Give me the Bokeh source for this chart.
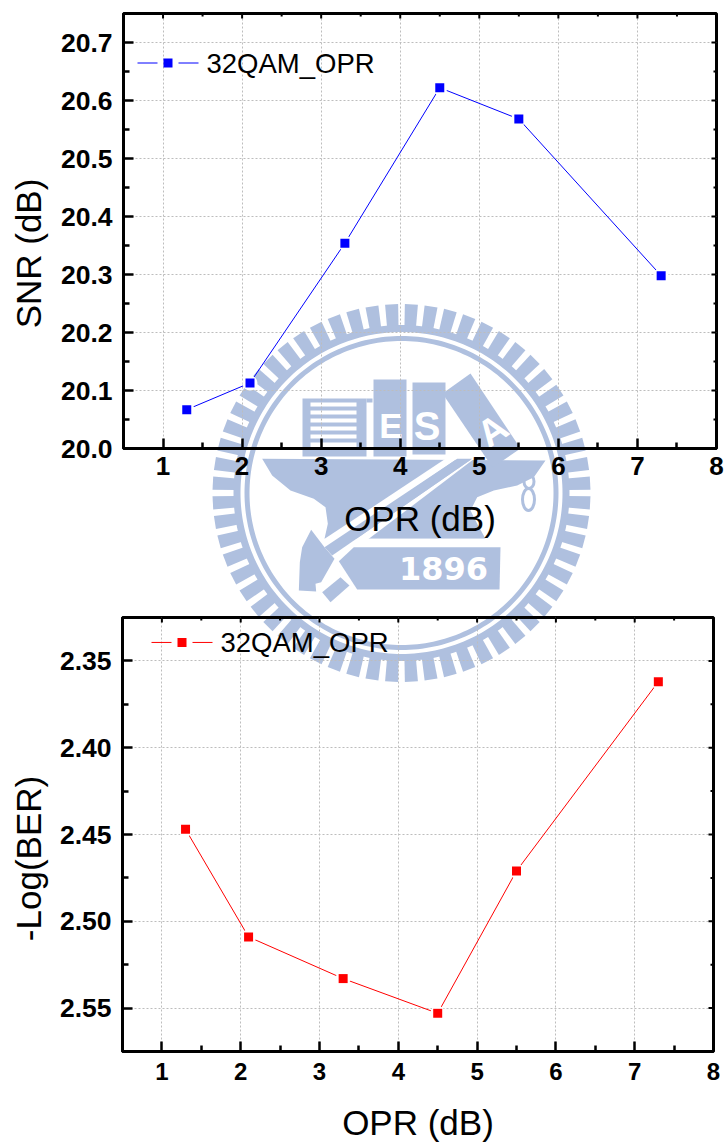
import numpy as np
from math import pi
from bokeh.plotting import figure
from bokeh.layouts import column
from bokeh.models import Range1d, FixedTicker, NumeralTickFormatter, Label
from bokeh.embed import file_html
from bokeh.resources import INLINE

# ---- data ----
opr_db = [1.3, 2.1, 3.3, 4.5, 5.5, 7.3]
snr_db = [20.067, 20.113, 20.354, 20.622, 20.568, 20.298]
neg_log_ber = [2.447, 2.509, 2.533, 2.553, 2.471, 2.362]
series_name = "32QAM_OPR"
x_ticks = [1, 2, 3, 4, 5, 6, 7, 8]
x_minor = [0.5, 1.5, 2.5, 3.5, 4.5, 5.5, 6.5, 7.5]
snr_ticks = [20.0, 20.1, 20.2, 20.3, 20.4, 20.5, 20.6, 20.7]
snr_minor = [20.05, 20.15, 20.25, 20.35, 20.45, 20.55, 20.65, 20.75]
ber_ticks = [2.35, 2.40, 2.45, 2.50, 2.55]
ber_minor = [2.325, 2.375, 2.425, 2.475, 2.525, 2.575]

FONT = "Liberation Sans"
OFF = 0
W, H = 725, 1144
LOGO = "#AFC0DF"

# ---- watermark layer (page pixel coordinates) ----
wm = figure(width=W, height=H, x_range=Range1d(OFF, OFF + W), y_range=Range1d(OFF + H, OFF),
            x_axis_type=None, y_axis_type=None, toolbar_location=None, output_backend="svg",
            min_border=0, outline_line_color=None, frame_align=False)
wm.grid.visible = False

CX, CY = 401.0, 492.5

def z(points):
    """Logo outline traced in a zoomed crop, back to page pixels."""
    a = np.array(points, dtype=float)
    return list(200 + a[:, 0] / 3), list(290 + a[:, 1] / 3)

def ring(r0, r1, color):
    t = np.linspace(0, 2 * pi, 241)
    xs = [list(CX + r1 * np.cos(t)) + list(CX + r0 * np.cos(t[::-1]))]
    ys = [list(CY + r1 * np.sin(t)) + list(CY + r0 * np.sin(t[::-1]))]
    wm.patches(xs, ys, fill_color=color, line_color=None)

# teeth
N_TEETH = 60
xs, ys = [], []
for i in range(N_TEETH):
    a = 2 * pi * (i + 0.5) / N_TEETH
    h = 2 * pi / N_TEETH * 0.33
    ang = [a - h, a + h, a + h, a - h]
    rad = [166, 166, 189, 189]
    xs.append([CX + r * np.cos(q) for r, q in zip(rad, ang)])
    ys.append([CY + r * np.sin(q) for r, q in zip(rad, ang)])
wm.patches(xs, ys, fill_color=LOGO, line_color=None)
ring(161, 168, LOGO)
ring(152, 157, LOGO)

# anvil
ax, ay = z([(185, 505), (1035, 510), (1000, 560), (950, 585), (880, 600), (830, 620), (810, 660),
            (830, 700), (855, 745), (372, 745), (382, 700), (375, 650), (340, 625), (270, 600), (215, 555)])
wm.patch(ax, ay, fill_color=LOGO, line_color=None)

# books
def rect(x0, x1, y0, y1, color=LOGO):
    wm.quad(left=x0, right=x1, top=y0, bottom=y1, fill_color=color, line_color=None)

rect(302, 366, 398, 456)
rect(366, 372, 398, 402)
rect(373, 406, 379, 456)
rect(412, 445, 382, 454)
for y0, y1 in [(402, 406), (410, 414), (418, 422), (426, 430), (434, 438), (442, 447)]:
    rect(310, 356, y0, y1, "white")
wm.patch([470, 442, 492, 520], [373, 393, 467, 448], fill_color=LOGO, line_color=None)

# white stripes either side of the hammer handle
sx, sy = z([(735, 505), (770, 505), (385, 768), (368, 748)])
wm.patch(sx, sy, fill_color="white", line_color=None)
sx, sy = z([(815, 505), (850, 483), (505, 745), (415, 812), (395, 795)])
wm.patch(sx, sy, fill_color="white", line_color=None)
wx, wy = z([(400, 745), (505, 745), (860, 745), (860, 770), (460, 770), (415, 812), (385, 775)])
wm.patch(wx, wy, fill_color="white", line_color=None)
hx, hy = z([(770, 505), (815, 505), (395, 795), (372, 770)])
wm.patch(hx, hy, fill_color=LOGO, line_color=None)
# hammer head
hx, hy = z([(332, 718), (372, 770), (402, 805), (362, 875), (345, 880), (347, 903), (295, 900),
            (298, 815), (305, 770)])
wm.patch(hx, hy, fill_color=LOGO, line_color=None)
hx, hy = z([(365, 905), (420, 860), (447, 885), (390, 935)])
wm.patch(hx, hy, fill_color=LOGO, line_color=None)
px_, py_ = z([(415, 812), (460, 770), (900, 770), (897, 897), (470, 897)])
wm.patch(px_, py_, fill_color=LOGO, line_color=None)

# knot
wm.ellipse(x=[528.5, 528], y=[481, 499], width=[10, 12], height=[14, 22], fill_color=None,
           line_color=LOGO, line_width=3)

def logo_text(x, y, s, size, angle=0, font="Liberation Sans"):
    wm.add_layout(Label(x=x, y=y, text=s, text_color="white", text_font=font, text_font_style="bold",
                        text_font_size=f"{size}px", text_align="center", text_baseline="middle",
                        angle=angle))

logo_text(390.5, 425, "E", 35)
logo_text(426.5, 425, "S", 40)
logo_text(492, 430, "A", 38, angle=0.6)
logo_text(443, 568, "1896", 32, font="DejaVu Sans")

def y_title(text, y):
    wm.add_layout(Label(x=28, y=y, text=text, text_font=FONT, text_font_size="35px", text_color="black",
                        angle=pi / 2, text_align="center", text_baseline="alphabetic"))

y_title("SNR (dB)", 253)
y_title("-Log(BER)", 858)

# ---- charts ----
def chart(top_px, fig_h, fr_l, fr_r, fr_t, fr_b, xr0, xr1, y_range, ys, color, y_ticks, y_minor, fmt,
          margin, xfont, leg, standoff):
    p = figure(width=W, height=fig_h, x_range=Range1d(xr0, xr1), y_range=y_range,
               toolbar_location=None, output_backend="svg", margin=margin, frame_align=False,
               min_border_left=fr_l - OFF, min_border_right=OFF + W - fr_r,
               min_border_top=fr_t - top_px, min_border_bottom=top_px + fig_h - fr_b,
               background_fill_color=None, border_fill_color=None,
               outline_line_color="black", outline_line_width=3, outline_line_alpha=1)

    def px(v):
        return xr0 + (v - fr_l) / (fr_r - fr_l) * (xr1 - xr0)

    def py(v):
        return y_range.start + (v - fr_b) / (fr_t - fr_b) * (y_range.end - y_range.start)

    p.xaxis.ticker = FixedTicker(ticks=x_ticks, minor_ticks=x_minor)
    p.yaxis.ticker = FixedTicker(ticks=y_ticks, minor_ticks=y_minor)
    p.yaxis.formatter = NumeralTickFormatter(format=fmt)
    p.xaxis.formatter = NumeralTickFormatter(format="0")
    for ax_ in (p.xaxis[0], p.yaxis[0]):
        ax_.axis_line_color = "black"
        ax_.axis_line_width = 3
        ax_.major_tick_line_color = "black"
        ax_.major_tick_line_width = 2.5
        ax_.minor_tick_line_color = "black"
        ax_.minor_tick_line_width = 2.5
        ax_.major_tick_in = 10
        ax_.major_tick_out = 0
        ax_.minor_tick_in = 6
        ax_.minor_tick_out = 0
        ax_.major_label_text_font = FONT
        ax_.major_label_text_font_style = "bold"
        ax_.major_label_text_color = "black"
    p.yaxis.major_label_text_font_size = "26.5px"
    p.xaxis.major_label_text_font_size = xfont
    p.yaxis.major_label_standoff = 11
    p.xaxis.major_label_standoff = standoff[0]
    p.xaxis.axis_label = "OPR (dB)"
    p.xaxis.axis_label_text_font = FONT
    p.xaxis.axis_label_text_font_style = "normal"
    p.xaxis.axis_label_text_font_size = "35px"
    p.xaxis.axis_label_text_color = "black"
    p.xaxis.axis_label_standoff = standoff[1]

    p.xgrid.ticker = FixedTicker(ticks=x_ticks[:-1])
    p.ygrid.ticker = FixedTicker(ticks=y_ticks)
    for g in (p.xgrid[0], p.ygrid[0]):
        g.grid_line_color = "#BDBDBD"
        g.grid_line_dash = "2 2"
        g.grid_line_width = 1

    # mirror ticks on the right and top edges
    for tks, n in ((y_ticks, 5), (y_minor, 3)):
        p.segment(x0=[px(fr_r)] * len(tks), x1=[px(fr_r - n)] * len(tks), y0=tks, y1=tks,
                  line_color="black", line_width=2)
    for tks, n in ((x_ticks, 5), (x_minor, 3)):
        p.segment(x0=tks, x1=tks, y0=[py(fr_t)] * len(tks), y1=[py(fr_t + n)] * len(tks),
                  line_color="black", line_width=2)

    p.line(opr_db, ys, line_color=color, line_width=1)
    p.scatter(opr_db, ys, marker="circle", size=15, fill_color="white", line_color=None)
    p.scatter(opr_db, ys, marker="square", size=9, fill_color=color, line_color=None)

    # legend key
    p.segment(x0=[px(leg[0]), px(leg[0] + 41)], x1=[px(leg[0] + 20), px(leg[0] + 61)],
              y0=[py(leg[1])] * 2, y1=[py(leg[1])] * 2, line_color=color, line_width=1)
    p.scatter([px(leg[0] + 30.5)], [py(leg[1])], marker="square", size=9, fill_color=color, line_color=None)
    p.add_layout(Label(x=px(leg[0] + 69), y=py(leg[1]), text=series_name, text_font=FONT,
                       text_font_size="27.5px", text_color="black", text_baseline="middle"))
    return p


top = chart(0, 568, 123, 716, 13, 448, 0.5, 8, Range1d(20.0, 20.75), snr_db, "#0000FF",
            snr_ticks, snr_minor, "0.0", (-H, 0, 0, 0), "26px", (137, 62.5), (8, 21))
bot = chart(568, 576, 122, 713, 617, 1052, 0.5, 8, Range1d(2.575, 2.325), neg_log_ber, "#FF0000",
            ber_ticks, ber_minor, "0.00", (0, 0, 0, 0), "24px", (151, 642), (11, 20))

page = column(wm, top, bot, spacing=0)
open("out.html", "w").write(file_html(page, INLINE))
